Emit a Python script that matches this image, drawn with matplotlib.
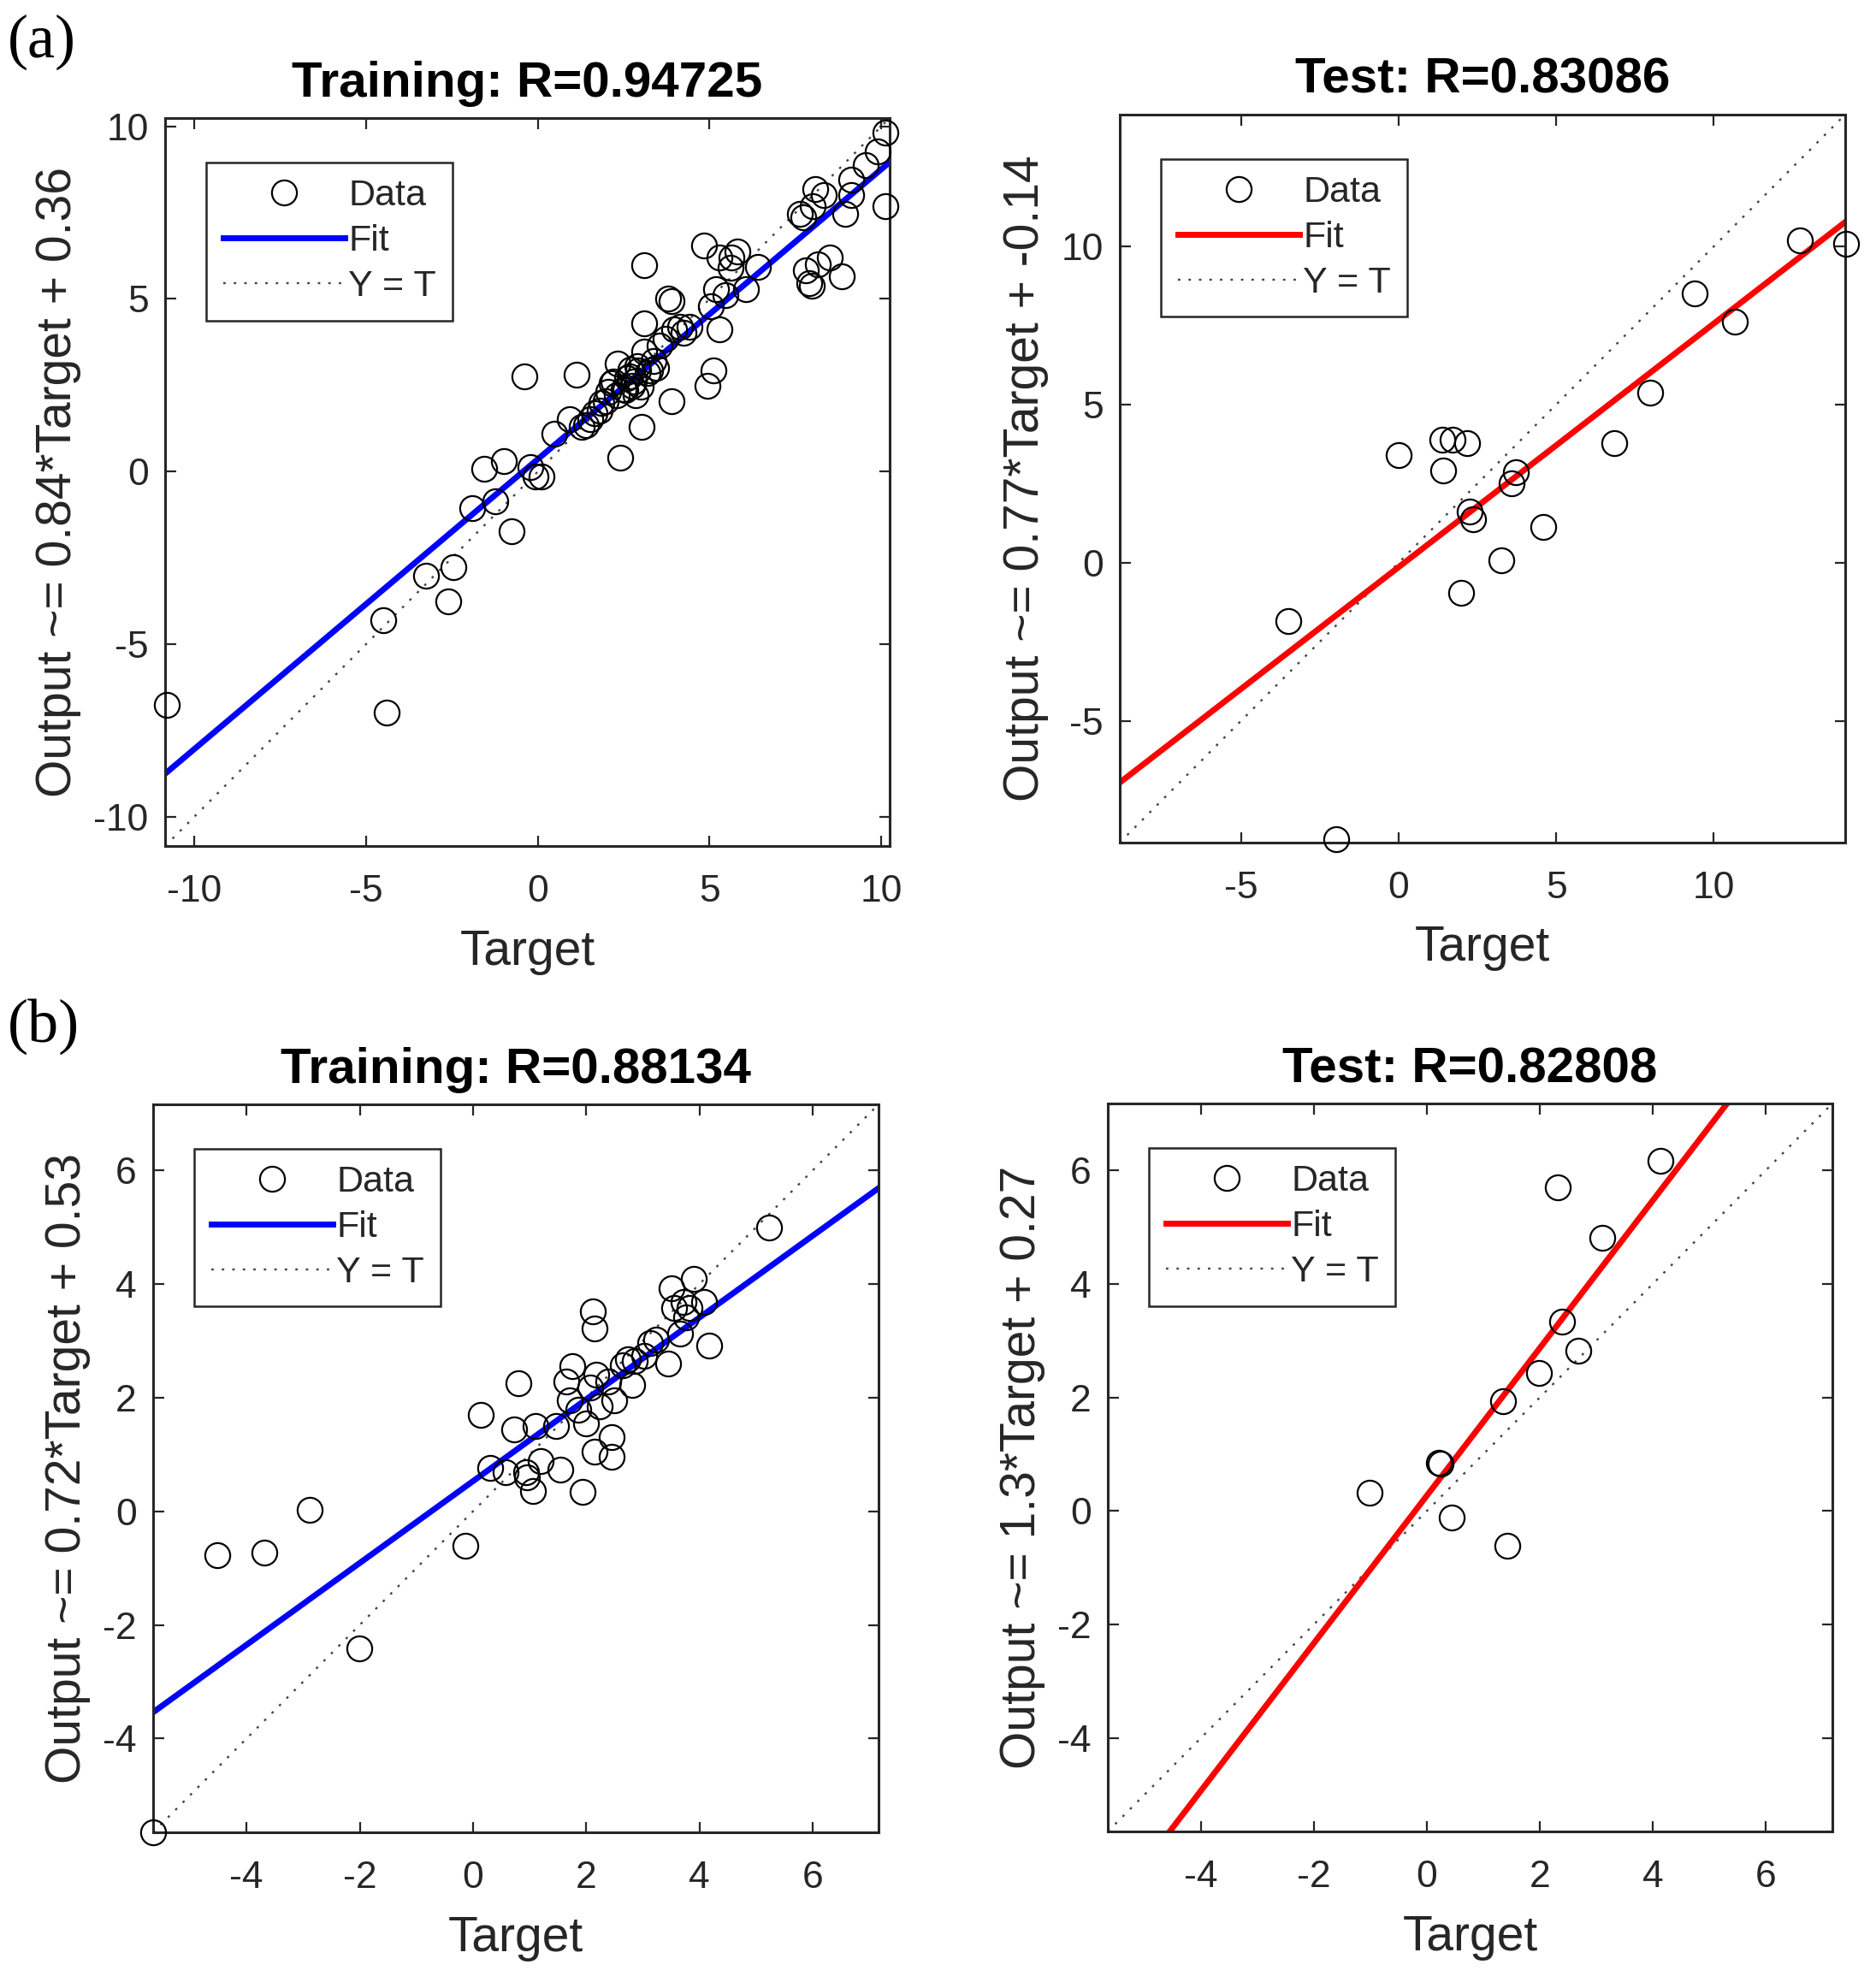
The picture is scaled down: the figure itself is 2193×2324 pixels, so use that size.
import numpy as np
import matplotlib
matplotlib.use("Agg")
import matplotlib.pyplot as plt

plt.rcParams['font.family'] = ['Liberation Sans', 'DejaVu Sans']
plt.rcParams['axes.unicode_minus'] = False

# ---- data ----
train_a_target = [-10.8, -4.51, -4.39, -3.26, -2.47, -2.60, -1.90, -1.55, -0.99, -1.24,
                  -0.77, -0.38, -0.21, -0.07, 0.10, 0.49, 0.92, 1.13, 1.27, 1.53,
                  1.79, 1.97, 2.14, 2.32, 2.40, 2.49, 2.67, 2.84, 2.75, 2.93,
                  3.01, 3.10, 3.10, 3.10, 3.28, 3.36, 3.54, 3.71, 3.80, 3.89,
                  3.97, 4.15, 4.23, 4.41, 4.84, 4.93, 5.10, 5.28, 5.19, 5.28,
                  5.45, 5.63, 5.80, 6.06, 6.41, 7.72, 7.80, 7.89, 7.98, 8.07,
                  8.15, 8.33, 8.50, 8.85, 8.94, 9.11, 9.11, 9.55, 9.90, 10.12,
                  10.12, 7.63, 1.40, 1.65, 2.05, 2.20, 2.55, 2.60, 2.80, 2.90,
                  3.20, 2.30, 2.70, 3.00, 1.85, 3.45, 3.90, 5.05, 5.60, 8.00]
train_a_output = [-6.76, -4.31, -6.97, -3.01, -2.77, -3.77, -1.05, 0.07, 0.31, -0.87,
                  -1.74, 2.75, 0.13, -0.14, -0.14, 1.09, 1.52, 2.81, 1.30, 1.52,
                  1.76, 2.03, 2.57, 3.12, 0.40, 2.39, 2.75, 2.21, 2.48, 2.93,
                  1.30, 3.48, 4.29, 5.98, 2.93, 3.21, 3.66, 3.84, 5.02, 2.03,
                  4.11, 4.20, 4.02, 4.20, 6.56, 2.48, 2.93, 4.11, 5.29, 6.20,
                  5.11, 6.20, 6.38, 5.29, 5.92, 7.37, 5.83, 5.47, 5.38, 8.19,
                  6.01, 8.01, 6.20, 5.65, 7.46, 8.46, 8.01, 8.88, 9.28, 9.82,
                  7.68, 7.46, 1.35, 1.70, 2.30, 2.60, 2.35, 2.70, 2.60, 3.05,
                  2.85, 2.20, 2.95, 2.45, 2.00, 3.00, 4.95, 4.80, 5.90, 7.70]

test_a_target = [-3.49, -1.98, 0.00, 1.38, 1.70, 2.17, 1.42, 1.98, 2.26, 2.36,
                 3.25, 3.58, 3.72, 4.58, 6.83, 7.98, 9.40, 10.66, 12.74, 14.2]
test_a_output = [-1.84, -8.75, 3.40, 3.89, 3.89, 3.79, 2.91, -0.95, 1.62, 1.36,
                 0.08, 2.51, 2.87, 1.13, 3.79, 5.38, 8.50, 7.61, 10.18, 10.08]

train_b_target = [-5.65, -4.51, -3.68, -2.88, -2.01, -0.13, 0.14, 0.30, 0.58, 0.80,
                  0.72, 0.93, 0.95, 1.06, 1.11, 1.20, 1.46, 1.54, 1.64, 1.70,
                  1.75, 1.86, 1.93, 1.99, 2.07, 2.12, 2.14, 2.17, 2.15, 2.23,
                  2.39, 2.44, 2.44, 2.49, 2.65, 2.81, 2.74, 2.86, 3.02, 3.13,
                  3.23, 3.45, 3.50, 3.55, 3.66, 3.71, 3.82, 3.90, 4.08, 4.17,
                  5.23, 3.76]
train_b_output = [-5.65, -0.78, -0.73, 0.03, -2.41, -0.61, 1.69, 0.77, 0.69, 2.25,
                  1.44, 0.69, 0.60, 0.35, 1.50, 0.88, 1.50, 0.74, 2.29, 1.95,
                  2.55, 1.78, 0.34, 1.55, 2.17, 3.52, 3.21, 2.40, 1.05, 1.84,
                  2.29, 1.30, 0.96, 1.95, 2.57, 2.23, 2.68, 2.65, 2.74, 2.96,
                  3.02, 2.60, 3.92, 3.58, 3.13, 3.69, 3.58, 4.09, 3.69, 2.91,
                  4.99, 3.41]

test_b_target = [-1.02, 0.24, 0.21, 0.44, 1.35, 1.42, 1.98, 2.32, 2.40, 2.68, 3.11, 4.13]
test_b_output = [0.32, 0.83, 0.85, -0.11, 1.93, -0.62, 2.43, 5.70, 3.34, 2.82, 4.81, 6.17]

fit_slope = [0.84, 0.77, 0.72, 1.3]
fit_intercept = [0.36, -0.14, 0.53, 0.27]
r_values = ['0.94725', '0.83086', '0.88134', '0.82808']
axis_limits = [(-10.85, 10.24), (-8.85, 14.17), (-5.65, 7.16), (-5.65, 7.18)]
tick_sets = [[-10, -5, 0, 5, 10], [-5, 0, 5, 10], [-4, -2, 0, 2, 4, 6], [-4, -2, 0, 2, 4, 6]]

GREY = '#262626'


def fmt_num(v):
  s = ('%.2f' % v).rstrip('0').rstrip('.')
  return s


def DrawPanel(ax, target, output, k, kind, color):
  lo, hi = axis_limits[k]
  xs = np.array([lo, hi])
  ax.plot(target, output, 'o', mfc='none', mec='black', ms=21, mew=1.6,
          label='Data', zorder=3, clip_on=False)
  ax.plot(xs, fit_slope[k] * xs + fit_intercept[k], '-', color=color, lw=5,
          label='Fit', zorder=2)
  ax.plot(xs, xs, ls=(0, (1.2, 4.0)), color='#444444', lw=1.7,
          label='Y = T', zorder=1)
  ax.set_xlim(lo, hi)
  ax.set_ylim(lo, hi)
  ax.set_xticks(tick_sets[k])
  ax.set_yticks(tick_sets[k])
  ax.tick_params(direction='in', length=9, width=1.6, colors=GREY,
                 labelsize=32, top=True, right=True, pad=14)
  ax.tick_params(axis='x', pad=24)
  for sp in ax.spines.values():
    sp.set_linewidth(2.2)
    sp.set_color(GREY)
  ax.set_title('%s: R=%s' % (kind, r_values[k]), fontsize=42,
               fontweight='bold', pad=18)
  ax.set_xlabel('Target', fontsize=41, color=GREY, labelpad=16)
  ax.set_ylabel('Output ~= %s*Target + %s' % (fmt_num(fit_slope[k]), fmt_num(fit_intercept[k])),
                fontsize=41, color=GREY, labelpad=10)
  leg = ax.legend(loc='upper left', bbox_to_anchor=(0.057, 0.939),
                  borderaxespad=0., fontsize=31, fancybox=False,
                  handlelength=3.3, handletextpad=0.1, labelspacing=0.3,
                  borderpad=0.45, framealpha=1)
  leg.get_frame().set_edgecolor(GREY)
  leg.get_frame().set_linewidth(1.8)
  for t in leg.get_texts():
    t.set_color(GREY)


#==================================
def main():
  fig = plt.figure(figsize=(21.93, 23.24), dpi=100)
  ax1 = fig.add_axes([0.0880, 0.5744, 0.3862, 0.3662])
  ax2 = fig.add_axes([0.5969, 0.5762, 0.3867, 0.3662])
  ax3 = fig.add_axes([0.0816, 0.0783, 0.3867, 0.3662])
  ax4 = fig.add_axes([0.5905, 0.0787, 0.3862, 0.3662])

  DrawPanel(ax1, train_a_target, train_a_output, 0, 'Training', 'blue')
  DrawPanel(ax2, test_a_target, test_a_output, 1, 'Test', 'red')
  DrawPanel(ax3, train_b_target, train_b_output, 2, 'Training', 'blue')
  DrawPanel(ax4, test_b_target, test_b_output, 3, 'Test', 'red')

  fig.text(0.004, 0.993, '(a)', fontsize=52, family='Liberation Serif', va='top')
  fig.text(0.004, 0.498, '(b)', fontsize=52, family='Liberation Serif', va='top')

  fig.savefig('out.png', dpi=100, facecolor='white')
  return


if __name__ == '__main__':
  main()
